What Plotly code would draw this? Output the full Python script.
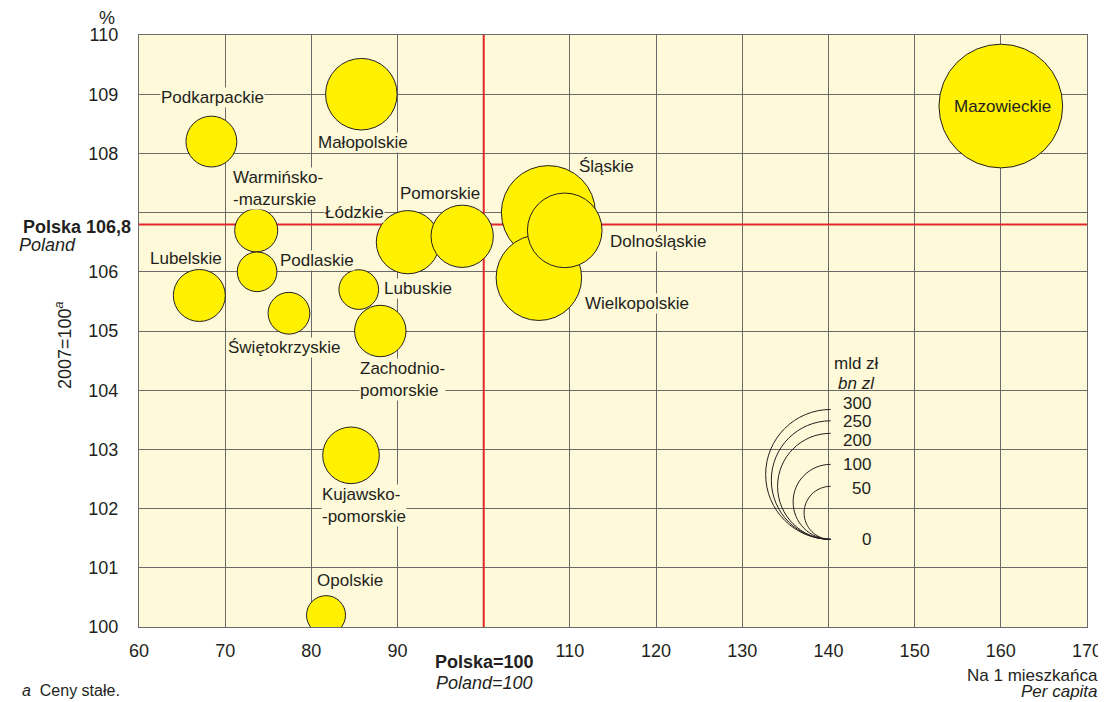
import plotly.graph_objects as go

# regional GDP: per capita index (Poland=100), real growth 2007=100, total in mld zł
regions = [
    "Mazowieckie", "Małopolskie", "Podkarpackie", "Warmińsko-<br>-mazurskie",
    "Podlaskie", "Lubelskie", "Świętokrzyskie", "Łódzkie", "Pomorskie",
    "Lubuskie", "Zachodnio-<br>pomorskie", "Kujawsko-<br>-pomorskie", "Opolskie",
    "Śląskie", "Wielkopolskie", "Dolnośląskie",
]
per_capita = [160.0, 85.8, 68.4, 73.6, 73.7, 67.0, 77.4, 91.2, 97.5,
              85.5, 88.0, 84.6, 81.7, 107.5, 106.4, 109.4]
growth = [108.8, 109.0, 108.2, 106.7, 106.0, 105.6, 105.3, 106.5, 106.6,
          105.7, 105.0, 102.9, 100.2, 107.0, 105.9, 106.7]
gdp = [272, 91, 46, 33, 28, 48, 31, 71, 69, 28, 47, 57, 27, 157, 130, 99]

poland_x = 100
poland_y = 106.8
size_key = [300, 250, 200, 100, 50, 0]

# label offsets from bubble centre, in pixels (dx, dy up, anchor)
label_pos = {
    "Mazowieckie": (2, 0, "center"),
    "Małopolskie": (2, -48, "center"),
    "Podkarpackie": (1, 44, "center"),
    "Warmińsko-<br>-mazurskie": (-24, 42, "left"),
    "Podlaskie": (60, 11, "center"),
    "Lubelskie": (-13, 37, "center"),
    "Świętokrzyskie": (-5, -34, "center"),
    "Łódzkie": (-53, 30, "center"),
    "Pomorskie": (-22, 43, "center"),
    "Lubuskie": (59, 1, "center"),
    "Zachodnio-<br>pomorskie": (-21, -48, "left"),
    "Kujawsko-<br>-pomorskie": (-30, -50, "left"),
    "Opolskie": (24, 35, "center"),
    "Śląskie": (58, 46, "center"),
    "Wielkopolskie": (98, -26, "center"),
    "Dolnośląskie": (93, -11, "center"),
}
inside_labels = {"Mazowieckie"}

FONT = "Liberation Sans, Arial, sans-serif"
INK = "#231f20"
BG = "#fef9d8"
YELLOW = "#fff100"
RED = "#e3262b"
GRID = "#6a6a6a"

# plot area as seen on the page (the page body adds an 8px offset)
PAGE_OFF = 8
L, R, T, B = 139, 1087, 35, 627
W, H = 1106 - PAGE_OFF, 702 - PAGE_OFF


def px(x):
    return (x - L) / (R - L)


def py(y):
    return (B - y) / (B - T)


fig = go.Figure()
fig.add_trace(go.Scatter(
    x=per_capita, y=growth, mode="markers",
    marker=dict(size=gdp, sizemode="area", sizeref=1 / 28.125,
                color=YELLOW, opacity=1, line=dict(color=INK, width=1)),
    hoverinfo="skip", showlegend=False,
))

# Poland reference lines
fig.add_shape(type="line", x0=poland_x, x1=poland_x, y0=100, y1=110,
              line=dict(color=RED, width=2), layer="between")
fig.add_shape(type="line", x0=60, x1=170, y0=poland_y, y1=poland_y,
              line=dict(color=RED, width=2), layer="between")

# region labels (gridlines are masked behind the text)
for name, x, y in zip(regions, per_capita, growth):
    dx, dy, anchor = label_pos[name]
    fig.add_annotation(
        x=x, y=y, text=name, showarrow=False, xshift=dx, yshift=dy,
        xanchor=anchor, align="left" if anchor == "left" else "center",
        font=dict(family=FONT, size=17, color=INK),
        bgcolor="rgba(0,0,0,0)" if name in inside_labels else BG,
        borderpad=0,
    )

# size key: left half circles sharing a bottom point
key_x, key_y = 140.25, 101.48
k = 0.5523
for v in size_key:
    if v == 0:
        continue
    r = 3.75 * v ** 0.5
    path = (f"M 0,{2*r} C {-k*r},{2*r} {-r},{r + k*r} {-r},{r} "
            f"C {-r},{r - k*r} {-k*r},0 0,0")
    fig.add_shape(type="path", path=path, xsizemode="pixel", ysizemode="pixel",
                  xanchor=key_x, yanchor=key_y, line=dict(color=INK, width=1))

key_lift = [136, 118, 99, 75, 51, 0]
for v, lift in zip(size_key, key_lift):
    fig.add_annotation(x=key_x, y=key_y, text=str(v), showarrow=False,
                       xanchor="right", xshift=42, yshift=lift,
                       font=dict(family=FONT, size=17, color=INK))
fig.add_annotation(x=key_x, y=key_y, text="mld zł", showarrow=False,
                   xshift=26, yshift=176, font=dict(family=FONT, size=17, color=INK))
fig.add_annotation(x=key_x, y=key_y, text="<i>bn zl</i>", showarrow=False,
                   xshift=26, yshift=156, font=dict(family=FONT, size=17, color=INK))

# axis texts
texts = [
    ("%", 107, 18, "center", 18),
    ("<b>Polska 106,8</b>", 133, 227, "right", 18),
    ("<i>Poland</i>", 17, 245, "left", 18),
    ("2007=100<sup><i>a</i></sup>", 63, 345, "center", 18),
    ("<b>Polska=100</b>", 484, 662, "center", 18),
    ("<i>Poland=100</i>", 484, 683, "center", 18),
    ("Na 1 mieszkańca", 1100, 675, "right", 17),
    ("<i>Per capita</i>", 1100, 691, "right", 17),
    ("<i>a</i>  Ceny stałe.", 20, 690, "left", 16),
]
for text, x, y, anchor, size in texts:
    fig.add_annotation(x=px(x), y=py(y), xref="paper", yref="paper", text=text,
                       showarrow=False, xanchor=anchor, yanchor="middle",
                       textangle=-90 if text.startswith("2007") else 0,
                       font=dict(family=FONT, size=size, color=INK))

x_ticks = list(range(60, 171, 10))
y_ticks = list(range(100, 111))

fig.update_xaxes(
    range=[60, 170], tickvals=x_ticks,
    ticktext=[" " if t == 100 else str(t) for t in x_ticks],
    showgrid=True, gridcolor=GRID, gridwidth=1.2, zeroline=False,
    showline=True, linecolor=GRID, linewidth=1.2, mirror=True,
    ticks="", ticklabelstandoff=7,
    tickfont=dict(family=FONT, size=18, color=INK),
)
fig.update_yaxes(
    range=[100, 110], tickvals=y_ticks,
    ticktext=[" " if t == 107 else str(t) for t in y_ticks],
    showgrid=True, gridcolor=GRID, gridwidth=1.2, zeroline=False,
    showline=True, linecolor=GRID, linewidth=1.2, mirror=True,
    ticks="", ticklabelstandoff=16,
    tickfont=dict(family=FONT, size=18, color=INK),
)
fig.update_layout(
    width=W, height=H,
    margin=dict(l=L - PAGE_OFF, r=W - (R - PAGE_OFF), t=T - PAGE_OFF,
                b=H - (B - PAGE_OFF), autoexpand=False),
    plot_bgcolor=BG, paper_bgcolor="white",
    font=dict(family=FONT, color=INK),
    showlegend=False,
)

fig.write_html("out.html")
